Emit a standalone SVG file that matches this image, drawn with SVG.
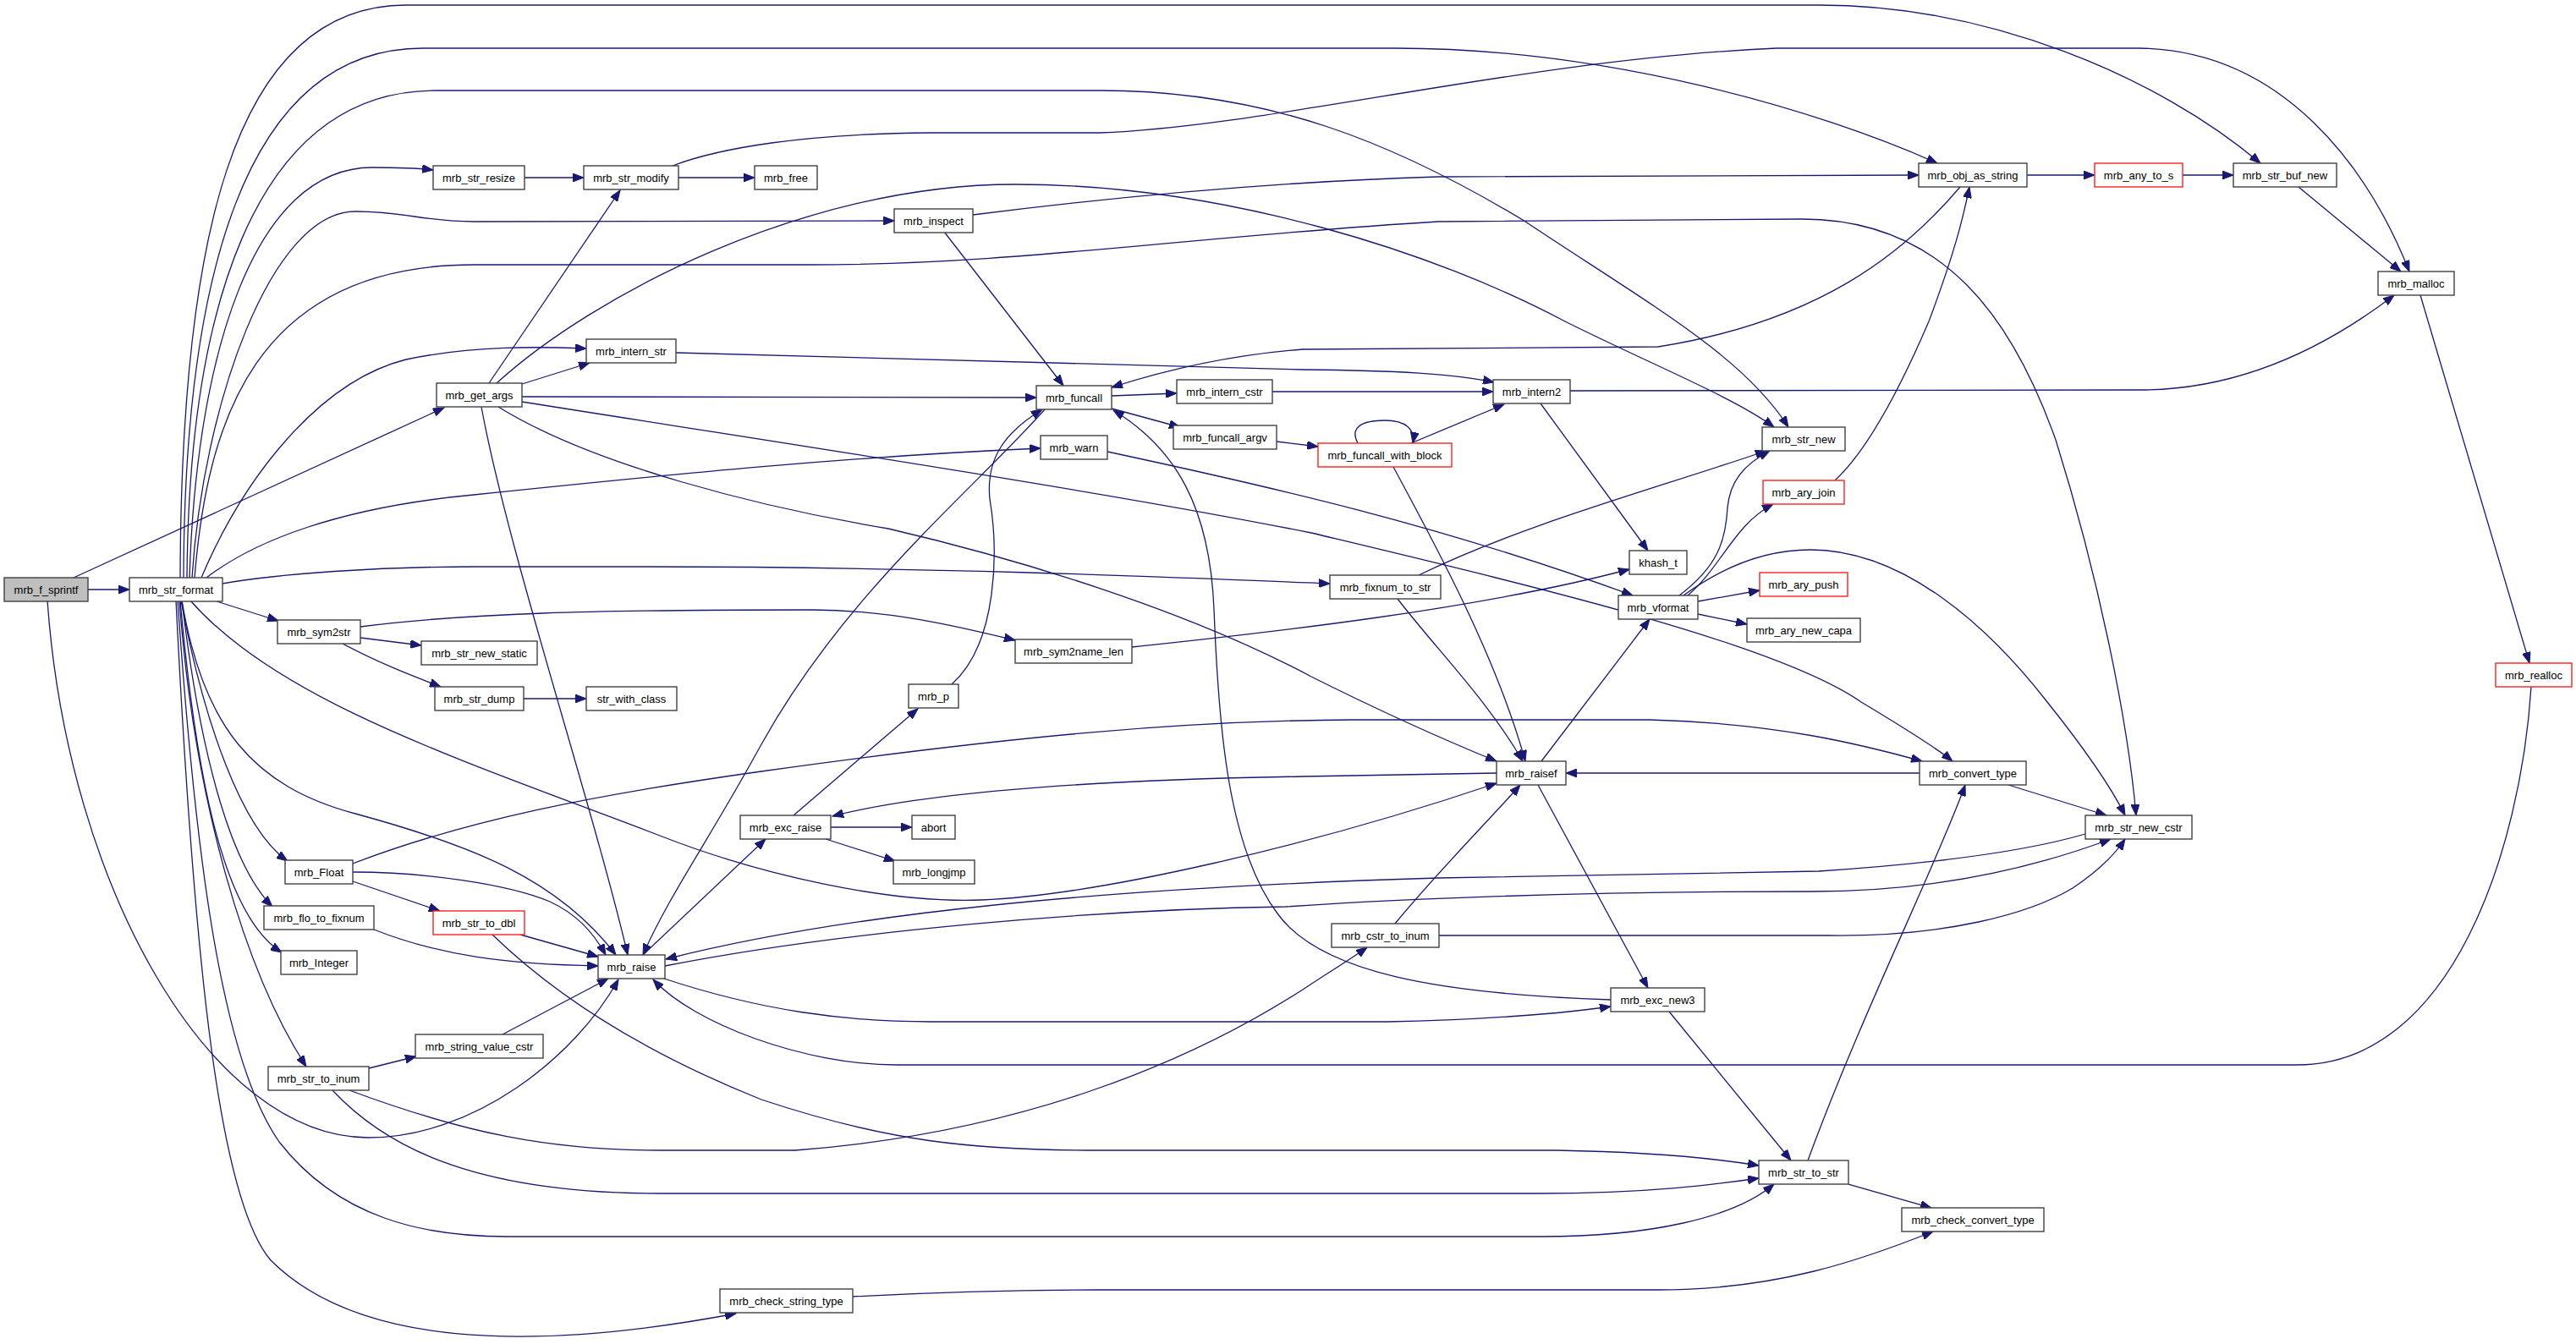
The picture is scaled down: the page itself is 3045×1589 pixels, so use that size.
<svg xmlns="http://www.w3.org/2000/svg" width="3045" height="1589" viewBox="0 0 3045 1589">
<style>
.n rect{fill:#ffffff;stroke:#404040;stroke-width:1.4}
.n.r rect{stroke:#ff2020}
.n.h rect{fill:#bfbfbf}
.n text{font-family:"Liberation Sans",Arial,sans-serif;font-size:13px;fill:#000;text-anchor:middle}
.e path{fill:none;stroke:#191970;stroke-width:1.3;marker-end:url(#a)}
</style>
<defs>
<marker id="a" markerWidth="14" markerHeight="10" refX="13" refY="5" orient="auto" markerUnits="userSpaceOnUse">
<path d="M0,0 L13,5 L0,10 z" fill="#191970" stroke="#191970" stroke-width="1"/>
</marker>
</defs>
<rect x="0" y="0" width="3045" height="1589" fill="#ffffff"/>
<g id="edges" class="e">
<path d="M104,697 L153,697"/>
<path d="M87,683 L525,482"/>
<path d="M56,710 C80,1050 250,1345 435,1345 C560,1345 680,1250 731,1158"/>
<path d="M213,683 C214,300 270,6 480,6 L2150,6 C2350,6 2550,90 2672,193"/>
<path d="M217,683 C218,340 285,57 500,57 L1650,57 C1900,57 2150,130 2290,193"/>
<path d="M221,683 C223,380 295,107 515,107 L1300,107 C1500,107 1650,170 1800,260 C1950,360 2060,420 2114,505"/>
<path d="M224,683 C232,420 300,198 440,198 C470,198 495,199 512,201"/>
<path d="M227,683 C240,480 320,250 420,250 C480,250 500,262 560,262 L1057,261"/>
<path d="M230,683 C245,500 300,313 560,313 L960,313 C1200,313 1400,280 1700,262 L2130,259 C2300,259 2380,380 2430,520 C2480,680 2515,850 2525,964"/>
<path d="M238,683 C290,560 380,450 480,425 C560,408 640,410 693,412"/>
<path d="M244,683 C300,640 400,600 560,585 C800,560 1000,540 1230,530"/>
<path d="M263,690 C330,678 450,670 560,670 L760,670 C1100,670 1400,683 1572,690"/>
<path d="M256,711 L329,734"/>
<path d="M225,710 C330,830 550,900 780,988 C900,1035 1050,1068 1160,1064 C1300,1058 1550,1000 1769,926"/>
<path d="M215,710 C240,860 300,930 420,962 C560,1000 660,1040 728,1129"/>
<path d="M214,710 C240,850 285,980 340,1018"/>
<path d="M215,710 C235,880 270,1020 322,1072"/>
<path d="M213,710 C230,900 260,1080 333,1126"/>
<path d="M212,710 C230,950 290,1150 362,1261"/>
<path d="M210,710 C230,1000 260,1250 330,1350 C400,1440 500,1462 600,1462 L1820,1462 C1950,1462 2050,1440 2097,1400"/>
<path d="M208,710 C230,1150 260,1420 320,1490 C420,1590 620,1600 870,1553"/>
<path d="M620,210 L690,210"/>
<path d="M802,210 L892,210"/>
<path d="M795,196 C850,175 950,158 1100,157 L1300,157 C1500,150 1800,70 2100,57 L2530,57 C2700,60 2800,200 2848,321"/>
<path d="M578,453 L733,225"/>
<path d="M617,454 L697,429"/>
<path d="M587,453 C700,350 950,218 1200,218 C1450,218 1700,300 1850,380 C1950,430 2050,470 2097,505"/>
<path d="M617,469 L1225,470"/>
<path d="M617,475 C900,520 1300,580 1550,630 C1800,690 2100,760 2200,830 C2250,860 2290,885 2308,900"/>
<path d="M569,481 C600,650 700,950 742,1129"/>
<path d="M589,481 C700,550 900,600 1050,625 C1200,660 1400,720 1550,800 C1650,850 1720,880 1769,900"/>
<path d="M1150,254 C1300,235 1500,215 1700,209 L2268,207"/>
<path d="M1116,274 L1257,456"/>
<path d="M799,417 L1540,437 C1650,438 1720,442 1766,452"/>
<path d="M1314,468 L1391,465"/>
<path d="M1314,483 L1395,505"/>
<path d="M1235,484 C1150,580 1000,700 900,880 C840,990 790,1060 760,1129"/>
<path d="M1125,809 C1180,760 1180,650 1170,590 C1165,540 1190,510 1232,484"/>
<path d="M1504,463 L1765,463"/>
<path d="M1509,522 L1558,528"/>
<path d="M1605,524 C1595,505 1610,497 1637,497 C1662,497 1673,508 1670,524"/>
<path d="M1668,524 L1778,478"/>
<path d="M1647,552 C1700,650 1770,780 1803,900"/>
<path d="M1856,462 L2530,461 C2650,461 2750,410 2830,349"/>
<path d="M1821,477 L1948,651"/>
<path d="M2396,207 L2476,207"/>
<path d="M2580,207 L2640,207"/>
<path d="M2717,221 L2838,321"/>
<path d="M2861,349 L2990,784"/>
<path d="M2992,812 C2980,1000 2900,1259 2715,1259 L1060,1259 C950,1259 820,1210 772,1158"/>
<path d="M1309,534 C1500,575 1700,620 1930,704"/>
<path d="M426,754 L498,763"/>
<path d="M405,761 C450,785 490,800 521,812"/>
<path d="M426,741 C550,725 700,721 960,721 C1050,721 1130,740 1200,757"/>
<path d="M619,826 L693,826"/>
<path d="M1338,765 C1500,748 1750,720 1926,673"/>
<path d="M938,964 L1085,838"/>
<path d="M982,978 L1078,978"/>
<path d="M976,992 L1058,1018"/>
<path d="M1677,680 C1800,620 1950,580 2088,533"/>
<path d="M1652,708 C1700,770 1760,830 1800,900"/>
<path d="M1985,704 C2030,670 2040,640 2042,600 C2045,570 2060,550 2092,533"/>
<path d="M1995,704 C2035,670 2050,620 2096,596"/>
<path d="M2007,711 L2080,698"/>
<path d="M2007,726 L2065,738"/>
<path d="M1990,704 C2050,660 2100,650 2140,650 C2250,650 2350,740 2420,830 C2460,880 2495,930 2512,964"/>
<path d="M2169,568 C2210,530 2250,450 2280,380 C2310,300 2320,260 2328,221"/>
<path d="M1822,900 L1950,732"/>
<path d="M1769,914 L1540,918 C1300,922 1100,935 984,965"/>
<path d="M1818,928 L1948,1168"/>
<path d="M2269,914 L1851,914"/>
<path d="M2374,928 L2490,964"/>
<path d="M2465,986 C2400,1005 2300,1020 2150,1030 L1700,1038 C1300,1050 1000,1080 787,1134"/>
<path d="M786,1142 C1000,1100 1300,1075 1520,1072 C1700,1060 1900,1054 2142,1054 C2300,1054 2420,1020 2495,992"/>
<path d="M760,1129 L905,992"/>
<path d="M785,1157 C900,1195 1000,1208 1100,1208 L1640,1208 C1750,1206 1850,1198 1904,1190"/>
<path d="M417,1021 C550,970 700,940 900,912 C1200,870 1400,852 1600,851 L1950,851 C2100,855 2200,880 2272,900"/>
<path d="M417,1031 C500,1031 600,1045 650,1066 C680,1080 700,1100 716,1129"/>
<path d="M417,1042 L520,1077"/>
<path d="M442,1099 C520,1130 600,1140 707,1142"/>
<path d="M615,1105 L707,1131"/>
<path d="M582,1105 C680,1200 800,1260 900,1300 C1050,1350 1150,1360 1300,1360 L1840,1360 C1950,1362 2030,1370 2079,1378"/>
<path d="M594,1223 L719,1157"/>
<path d="M436,1263 L492,1249"/>
<path d="M413,1289 C550,1340 650,1360 780,1360 L940,1360 C1200,1340 1400,1260 1540,1170 C1570,1150 1595,1135 1616,1120"/>
<path d="M393,1289 C450,1350 550,1411 780,1411 L1820,1411 C1950,1411 2030,1400 2079,1393"/>
<path d="M1008,1533 C1100,1528 1200,1525 1300,1525 L1960,1525 C2100,1525 2200,1490 2285,1456"/>
<path d="M1649,1092 C1700,1030 1760,970 1797,928"/>
<path d="M1701,1106 L2160,1106 C2300,1108 2400,1080 2450,1050 C2480,1030 2500,1010 2512,992"/>
<path d="M1904,1182 C1700,1175 1560,1150 1510,1080 C1450,1000 1440,850 1435,720 C1430,600 1390,530 1316,485"/>
<path d="M1973,1196 L2117,1372"/>
<path d="M2137,1372 C2200,1200 2290,1020 2323,928"/>
<path d="M2185,1400 L2283,1428"/>
<path d="M2317,221 C2250,300 2150,380 1960,410 L1540,413 C1450,420 1370,440 1314,458"/>
</g>
<g id="node-mrb_f_sprintf" class="n h"><rect x="5" y="683" width="99" height="28"/><text x="54.5" y="701.5">mrb_f_sprintf</text></g>
<g id="node-mrb_str_format" class="n"><rect x="153" y="683" width="110" height="28"/><text x="208" y="701.5">mrb_str_format</text></g>
<g id="node-mrb_str_resize" class="n"><rect x="512" y="196" width="108" height="28"/><text x="566" y="214.5">mrb_str_resize</text></g>
<g id="node-mrb_str_modify" class="n"><rect x="690" y="196" width="112" height="28"/><text x="746" y="214.5">mrb_str_modify</text></g>
<g id="node-mrb_free" class="n"><rect x="892" y="196" width="74" height="28"/><text x="929" y="214.5">mrb_free</text></g>
<g id="node-mrb_inspect" class="n"><rect x="1057" y="247" width="93" height="28"/><text x="1103.5" y="265.5">mrb_inspect</text></g>
<g id="node-mrb_intern_str" class="n"><rect x="693" y="401" width="106" height="28"/><text x="746" y="419.5">mrb_intern_str</text></g>
<g id="node-mrb_get_args" class="n"><rect x="516" y="453" width="101" height="28"/><text x="566.5" y="471.5">mrb_get_args</text></g>
<g id="node-mrb_funcall" class="n"><rect x="1225" y="456" width="89" height="28"/><text x="1269.5" y="474.5">mrb_funcall</text></g>
<g id="node-mrb_intern_cstr" class="n"><rect x="1391" y="449" width="113" height="28"/><text x="1447.5" y="467.5">mrb_intern_cstr</text></g>
<g id="node-mrb_funcall_argv" class="n"><rect x="1387" y="503" width="122" height="28"/><text x="1448" y="521.5">mrb_funcall_argv</text></g>
<g id="node-mrb_warn" class="n"><rect x="1230" y="515" width="79" height="28"/><text x="1269.5" y="533.5">mrb_warn</text></g>
<g id="node-mrb_intern2" class="n"><rect x="1765" y="449" width="91" height="28"/><text x="1810.5" y="467.5">mrb_intern2</text></g>
<g id="node-mrb_funcall_with_block" class="n r"><rect x="1558" y="524" width="158" height="28"/><text x="1637" y="542.5">mrb_funcall_with_block</text></g>
<g id="node-mrb_str_new" class="n"><rect x="2083" y="505" width="98" height="28"/><text x="2132" y="523.5">mrb_str_new</text></g>
<g id="node-mrb_obj_as_string" class="n"><rect x="2268" y="193" width="128" height="28"/><text x="2332" y="211.5">mrb_obj_as_string</text></g>
<g id="node-mrb_any_to_s" class="n r"><rect x="2476" y="193" width="104" height="28"/><text x="2528" y="211.5">mrb_any_to_s</text></g>
<g id="node-mrb_str_buf_new" class="n"><rect x="2640" y="193" width="122" height="28"/><text x="2701" y="211.5">mrb_str_buf_new</text></g>
<g id="node-mrb_malloc" class="n"><rect x="2811" y="321" width="90" height="28"/><text x="2856" y="339.5">mrb_malloc</text></g>
<g id="node-mrb_sym2str" class="n"><rect x="328" y="733" width="98" height="28"/><text x="377" y="751.5">mrb_sym2str</text></g>
<g id="node-mrb_str_new_static" class="n"><rect x="498" y="758" width="137" height="28"/><text x="566.5" y="776.5">mrb_str_new_static</text></g>
<g id="node-mrb_str_dump" class="n"><rect x="514" y="812" width="105" height="28"/><text x="566.5" y="830.5">mrb_str_dump</text></g>
<g id="node-str_with_class" class="n"><rect x="693" y="812" width="107" height="28"/><text x="746.5" y="830.5">str_with_class</text></g>
<g id="node-mrb_Float" class="n"><rect x="337" y="1017" width="80" height="28"/><text x="377" y="1035.5">mrb_Float</text></g>
<g id="node-mrb_sym2name_len" class="n"><rect x="1200" y="756" width="138" height="28"/><text x="1269" y="774.5">mrb_sym2name_len</text></g>
<g id="node-mrb_p" class="n"><rect x="1074" y="809" width="59" height="28"/><text x="1103.5" y="827.5">mrb_p</text></g>
<g id="node-mrb_exc_raise" class="n"><rect x="875" y="964" width="107" height="28"/><text x="928.5" y="982.5">mrb_exc_raise</text></g>
<g id="node-abort" class="n"><rect x="1078" y="964" width="51" height="28"/><text x="1103.5" y="982.5">abort</text></g>
<g id="node-mrb_longjmp" class="n"><rect x="1056" y="1017" width="96" height="28"/><text x="1104" y="1035.5">mrb_longjmp</text></g>
<g id="node-mrb_fixnum_to_str" class="n"><rect x="1572" y="680" width="131" height="28"/><text x="1637.5" y="698.5">mrb_fixnum_to_str</text></g>
<g id="node-khash_t" class="n"><rect x="1926" y="651" width="68" height="28"/><text x="1960" y="669.5">khash_t</text></g>
<g id="node-mrb_vformat" class="n"><rect x="1913" y="704" width="94" height="28"/><text x="1960" y="722.5">mrb_vformat</text></g>
<g id="node-mrb_ary_join" class="n r"><rect x="2084" y="568" width="96" height="28"/><text x="2132" y="586.5">mrb_ary_join</text></g>
<g id="node-mrb_ary_push" class="n r"><rect x="2080" y="677" width="104" height="28"/><text x="2132" y="695.5">mrb_ary_push</text></g>
<g id="node-mrb_ary_new_capa" class="n"><rect x="2065" y="731" width="134" height="28"/><text x="2132" y="749.5">mrb_ary_new_capa</text></g>
<g id="node-mrb_raisef" class="n"><rect x="1769" y="900" width="82" height="28"/><text x="1810" y="918.5">mrb_raisef</text></g>
<g id="node-mrb_convert_type" class="n"><rect x="2269" y="900" width="126" height="28"/><text x="2332" y="918.5">mrb_convert_type</text></g>
<g id="node-mrb_str_new_cstr" class="n"><rect x="2465" y="964" width="126" height="28"/><text x="2528" y="982.5">mrb_str_new_cstr</text></g>
<g id="node-mrb_realloc" class="n r"><rect x="2950" y="784" width="90" height="28"/><text x="2995" y="802.5">mrb_realloc</text></g>
<g id="node-mrb_flo_to_fixnum" class="n"><rect x="312" y="1071" width="130" height="28"/><text x="377" y="1089.5">mrb_flo_to_fixnum</text></g>
<g id="node-mrb_Integer" class="n"><rect x="332" y="1124" width="90" height="28"/><text x="377" y="1142.5">mrb_Integer</text></g>
<g id="node-mrb_str_to_dbl" class="n r"><rect x="512" y="1077" width="108" height="28"/><text x="566" y="1095.5">mrb_str_to_dbl</text></g>
<g id="node-mrb_raise" class="n"><rect x="707" y="1129" width="79" height="28"/><text x="746.5" y="1147.5">mrb_raise</text></g>
<g id="node-mrb_string_value_cstr" class="n"><rect x="491" y="1223" width="151" height="28"/><text x="566.5" y="1241.5">mrb_string_value_cstr</text></g>
<g id="node-mrb_str_to_inum" class="n"><rect x="317" y="1261" width="119" height="28"/><text x="376.5" y="1279.5">mrb_str_to_inum</text></g>
<g id="node-mrb_check_string_type" class="n"><rect x="851" y="1524" width="157" height="28"/><text x="929.5" y="1542.5">mrb_check_string_type</text></g>
<g id="node-mrb_cstr_to_inum" class="n"><rect x="1574" y="1092" width="127" height="28"/><text x="1637.5" y="1110.5">mrb_cstr_to_inum</text></g>
<g id="node-mrb_exc_new3" class="n"><rect x="1904" y="1168" width="111" height="28"/><text x="1959.5" y="1186.5">mrb_exc_new3</text></g>
<g id="node-mrb_str_to_str" class="n"><rect x="2079" y="1372" width="106" height="28"/><text x="2132" y="1390.5">mrb_str_to_str</text></g>
<g id="node-mrb_check_convert_type" class="n"><rect x="2248" y="1428" width="168" height="28"/><text x="2332" y="1446.5">mrb_check_convert_type</text></g>
</svg>
